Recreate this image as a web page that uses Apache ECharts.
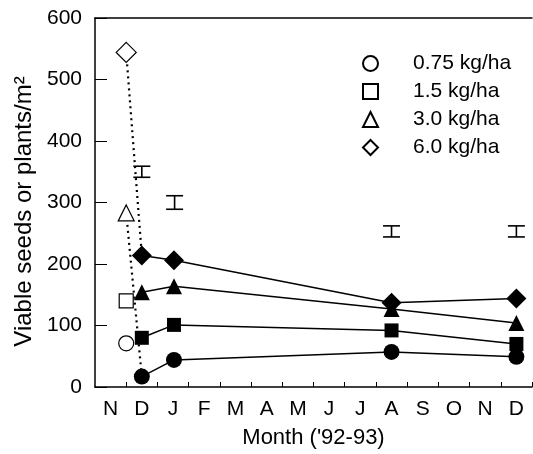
<!DOCTYPE html>
<html>
<head>
<meta charset="utf-8">
<script src="https://cdn.jsdelivr.net/npm/echarts@6/dist/echarts.min.js"></script>
<style>
html,body{margin:0;padding:0;background:#fff;}
#chart{width:533px;height:454px;}
</style>
</head>
<body>
<div id="chart"></div>
<script>
// ---- data ----
var months = ['N','D','J','F','M','A','M','J','J','A','S','O','N','D'];
var yTicks = [0, 100, 200, 300, 400, 500, 600];
var rates = ['0.75 kg/ha', '1.5 kg/ha', '3.0 kg/ha', '6.0 kg/ha'];
var shapes = ['circle', 'rect', 'triangle', 'diamond'];
var sownX = 1.0;
var sown = [71, 140, 283, 544];
var sampleX = [1.5, 2.53, 9.5, 13.5];
var seeds075 = [17, 44, 57, 49];
var seeds15 = [80, 101, 92, 70];
var seeds30 = [154, 164, 127, 104];
var seeds60 = [214, 206, 137, 144];
var errX = [1.5, 2.55, 9.5, 13.5];
var errMid = [350, 300, 253, 253];
var errHalf = [9, 11, 9, 9];
var dotDiamond = [[1.0, 544], [1.5, 214]];
var dotTriangle = [[1.0, 283], [1.5, 17]];

var filled = [seeds075, seeds15, seeds30, seeds60];
var sizesFilled = [16, 14, 16, 20];
var sizesOpen = [15, 14, 16, 20];
var FONT = 'Liberation Sans, Arial, Helvetica, sans-serif';

var chart = echarts.init(document.getElementById('chart'));
var series = [];

[dotDiamond, dotTriangle].forEach(function (d, i) {
  series.push({
    type: 'line', name: 'dot' + i, data: d, symbol: 'none', z: 1,
    lineStyle: {color: '#000', width: 2.2, type: [2, 4]}, silent: true
  });
});

filled.forEach(function (vals, i) {
  series.push({
    type: 'line', name: 'filled' + i, z: 3,
    data: sampleX.map(function (x, j) { return [x, vals[j]]; }),
    symbol: shapes[i], symbolSize: sizesFilled[i], showSymbol: true,
    lineStyle: {color: '#000', width: 1.5},
    itemStyle: {color: '#000', borderWidth: 0}
  });
});

rates.forEach(function (name, i) {
  series.push({
    type: 'scatter', name: name, z: 4,
    data: [[sownX, sown[i]]],
    symbol: shapes[i], symbolSize: sizesOpen[i],
    itemStyle: {color: '#fff', borderColor: '#000', borderWidth: 1.2, opacity: 1}
  });
});

series.push({
  type: 'custom', name: 'err', z: 2,
  data: errX.map(function (x, i) { return [x, errMid[i] - errHalf[i], errMid[i] + errHalf[i]]; }),
  renderItem: function (params, api) {
    var lo = api.coord([api.value(0), api.value(1)]);
    var hi = api.coord([api.value(0), api.value(2)]);
    var w = 8.5;
    var st = {stroke: '#000', lineWidth: 1.6};
    return {type: 'group', children: [
      {type: 'line', shape: {x1: lo[0], y1: lo[1], x2: hi[0], y2: hi[1]}, style: st},
      {type: 'line', shape: {x1: lo[0] - w, y1: lo[1], x2: lo[0] + w, y2: lo[1]}, style: st},
      {type: 'line', shape: {x1: hi[0] - w, y1: hi[1], x2: hi[0] + w, y2: hi[1]}, style: st}
    ]};
  }
});

var tickVals = [];
for (var t = 1; t <= 14; t++) tickVals.push(t);
var labelVals = months.map(function (m, i) { return i + 0.5; });

chart.setOption({
  animation: false,
  backgroundColor: '#fff',
  textStyle: {fontFamily: FONT, color: '#000'},
  legend: {
    orient: 'vertical', left: 357, top: 48,
    itemWidth: 15, itemHeight: 15, itemGap: 7,
    data: rates.map(function (r, i) { return {name: r, icon: shapes[i]}; }),
    textStyle: {fontFamily: FONT, fontSize: 21, color: '#000', padding: [0, 0, 0, 30]},
    selectedMode: false
  },
  grid: {left: 95, top: 18, width: 437, height: 370, containLabel: false},
  xAxis: [{
    type: 'value', min: 0, max: 14, position: 'bottom',
    name: "Month ('92-93)", nameLocation: 'middle', nameGap: 40,
    nameTextStyle: {fontFamily: FONT, fontSize: 22, color: '#000'},
    axisLine: {show: true, lineStyle: {color: '#000', width: 1.5}},
    axisTick: {show: true, inside: true, length: 5, customValues: tickVals, lineStyle: {color: '#000', width: 1}},
    axisLabel: {
      show: true, margin: 12, fontSize: 21, color: '#000', fontFamily: FONT,
      customValues: labelVals,
      formatter: function (v) { return months[Math.floor(v)] || ''; }
    },
    splitLine: {show: false}
  }, {
    type: 'value', min: 0, max: 14, position: 'top',
    axisLine: {show: true, onZero: false, lineStyle: {color: '#000', width: 1.5}},
    axisTick: {show: false}, axisLabel: {show: false}, splitLine: {show: false}
  }],
  yAxis: {
    type: 'value', min: yTicks[0], max: yTicks[yTicks.length - 1], interval: 100,
    name: 'Viable seeds or plants/m²', nameLocation: 'middle', nameGap: 57,
    nameTextStyle: {fontFamily: FONT, fontSize: 24, color: '#000', padding: [0, 18, 0, 0]},
    axisLine: {show: true, lineStyle: {color: '#000', width: 1.5}},
    axisTick: {show: true, inside: true, length: 12, lineStyle: {color: '#000', width: 1}},
    axisLabel: {margin: 13, fontSize: 21, color: '#000', fontFamily: FONT},
    splitLine: {show: false}
  },
  series: series
});
</script>
</body>
</html>
